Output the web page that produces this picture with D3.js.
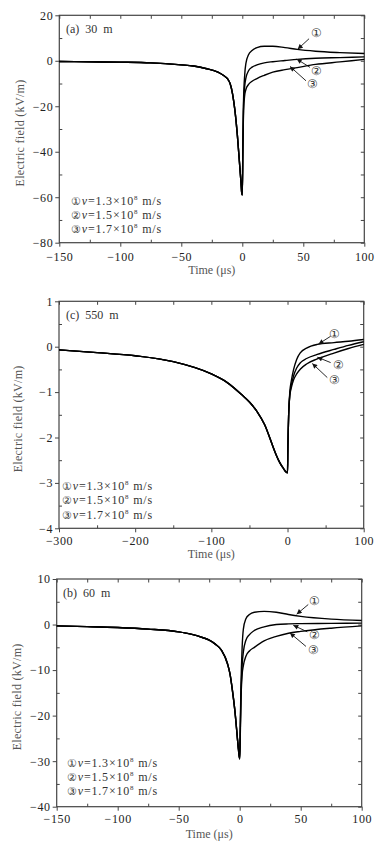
<!DOCTYPE html>
<html>
<head>
<meta charset="utf-8">
<script src="https://cdn.jsdelivr.net/npm/d3@7/dist/d3.min.js"></script>
<style>
  body { margin: 0; background: #fff; }
  svg { display: block; }
  text { font-family: "Liberation Serif", "DejaVu Serif", serif; }
</style>
</head>
<body>
<svg id="chart" width="383" height="853"></svg>
<script>
/*
 *** Data: shared rise before t=0, three tails after t=0
 */
var speedLabels = ["1.3", "1.5", "1.7"];
var markers = ["\u2460", "\u2461", "\u2462"];

// (a) 30 m
var preTimeA  = [-150, -125, -100, -75, -50, -40, -30, -20, -15, -12, -10, -8, -6, -4, -2, -1, -0.5, 0];
var preFieldA = [-0.3, -0.45, -0.6, -0.9, -1.8, -2.3, -3.4, -5, -6.6, -8, -10, -14.5, -22, -33, -47, -54, -58, -59];
var postTimeA = [0.5, 1, 2, 3, 5, 8, 12, 18, 25, 35, 45, 60, 80, 100];
var v13A = [-35, -18, -6, -1, 2.5, 4.5, 5.8, 6.4, 6.4, 5.8, 5, 4.2, 3.6, 3.2];
var v15A = [-36, -20, -11, -7.5, -4.5, -2.8, -1.8, -0.9, -0.4, 0.1, 0.6, 1.1, 1.4, 1.7];
var v17A = [-38, -22, -15, -12.5, -10.5, -9, -7.8, -6.4, -5, -3.9, -3, -1.6, -0.5, 0.6];
var xTicksA = [-150, -100, -50, 0, 50, 100];
var yTicksA = [20, 0, -20, -40, -60, -80];

// (c) 550 m
var preTimeC  = [-300, -250, -200, -150, -100, -80, -60, -50, -40, -30, -20, -15, -10, -5, -2, 0];
var preFieldC = [-0.07, -0.13, -0.2, -0.33, -0.6, -0.78, -1.06, -1.22, -1.43, -1.72, -2.16, -2.38, -2.56, -2.69, -2.76, -2.78];
var postTimeC = [0.5, 1.5, 3, 5, 8, 12, 17, 25, 39, 61, 80, 100];
var v13C = [-2.2, -1.5, -1.0, -0.75, -0.5, -0.28, -0.13, -0.03, 0.05, 0.09, 0.12, 0.16];
var v15C = [-2.2, -1.5, -1.05, -0.85, -0.64, -0.47, -0.35, -0.26, -0.17, -0.06, 0.03, 0.11];
var v17C = [-2.2, -1.5, -1.08, -0.9, -0.73, -0.6, -0.49, -0.38, -0.27, -0.14, -0.04, 0.05];
var xTicksC = [-300, -200, -100, 0, 100];
var yTicksC = [1, 0, -1, -2, -3, -4];

// (b) 60 m
var preTimeB  = [-150, -125, -100, -75, -50, -40, -30, -25, -20, -15, -10, -8, -6, -4, -2, -1, 0];
var preFieldB = [-0.3, -0.45, -0.65, -1, -1.6, -2.1, -2.9, -3.4, -4.3, -5.6, -8.6, -10.8, -14.4, -18.8, -24.6, -27.5, -29.5];
var postTimeB = [0.5, 1, 2, 3, 5, 8, 12, 20, 30, 40, 50, 75, 100];
var v13B = [-22, -14, -5, -1, 1.2, 2.2, 2.7, 2.9, 2.7, 2.2, 1.8, 1.2, 0.9];
var v15B = [-23, -16, -9, -6, -3.5, -2.2, -1.3, -0.5, 0, 0.15, 0.2, 0.25, 0.3];
var v17B = [-24, -17, -11, -9, -7, -5.8, -5, -3.6, -2.6, -1.9, -1.5, -0.8, -0.3];
var xTicksB = [-150, -100, -50, 0, 50, 100];
var yTicksB = [10, 0, -10, -20, -30, -40];

// arrow callouts in data units: label spot, arrow tail, arrow tip
var calloutsA = [[61, 12.2, 54.7, 9.7, 45.4, 5.1], [61, -4.3, 55.5, -2.9, 44.6, 0.75], [57.4, -10.2, 52.2, -8.8, 39.1, -2.5]];
var calloutsC = [[61.8, 0.29, 56.6, 0.23, 40.8, 0.06], [67.5, -0.39, 56.6, -0.35, 39.1, -0.23], [61.8, -0.72, 52.2, -0.68, 32.5, -0.37]];
var calloutsB = [[61.7, 5.2, 56.2, 4.4, 46.7, 2.26], [61.7, -2.35, 55.4, -1.6, 43.9, -0.15], [60.3, -5.5, 54.3, -4.8, 41.2, -1.85]];


var svg = d3.select("#chart");

svg.append("defs").append("marker")
    .attr("id", "head")
    .attr("viewBox", "0 0 10 10")
    .attr("refX", 10).attr("refY", 5)
    .attr("markerWidth", 6).attr("markerHeight", 5)
    .attr("markerUnits", "userSpaceOnUse")
    .attr("orient", "auto")
    .append("path").attr("d", "M0,0L10,5L0,10Z").attr("fill", "#111");

function joinSeries(preT, preV, postT, postV){
    var pts = preT.map(function(t, i){ return [t, preV[i]]; });
    return pts.concat(postT.map(function(t, i){ return [t, postV[i]]; }));
}

function minorBetween(ticks){
    var out = [];
    for(var i = 0; i < ticks.length - 1; i++){
        out.push((ticks[i] + ticks[i+1]) / 2);
    }
    return out;
}


/*
 *** Draw one panel
 */
function drawPanel(p){
    var x = d3.scaleLinear().domain(p.xDomain).range([p.left, p.right]);
    var y = d3.scaleLinear().domain(p.yDomain).range([p.bottom, p.top]);
    var g = svg.append("g");

    var xMinor = minorBetween(p.xTicks);
    var yMinor = minorBetween(p.yTicks);
    var fmt = d3.format("d");

    function styleAxis(sel){
        sel.attr("font-family", null);
        sel.select(".domain").remove();
        sel.selectAll("line").attr("stroke", "#444").attr("stroke-width", 1);
        sel.selectAll("text")
            .attr("font-size", 12)
            .attr("fill", "#222")
            .attr("letter-spacing", 0.6);
    }

    // bottom
    g.append("g").attr("transform", "translate(0," + p.bottom + ")")
        .call(d3.axisBottom(x).tickValues(p.xTicks).tickSize(4).tickPadding(p.xPad).tickFormat(fmt))
        .call(styleAxis);
    g.append("g").attr("transform", "translate(0," + p.bottom + ")")
        .call(d3.axisBottom(x).tickValues(xMinor).tickSize(-3).tickFormat(""))
        .call(styleAxis);
    // top
    g.append("g").attr("transform", "translate(0," + p.top + ")")
        .call(d3.axisTop(x).tickValues(p.xTicks.concat(xMinor)).tickSize(-3.5).tickFormat(""))
        .call(styleAxis);
    // left
    g.append("g").attr("transform", "translate(" + p.left + ",0)")
        .call(d3.axisLeft(y).tickValues(p.yTicks).tickSize(4).tickPadding(2).tickFormat(fmt))
        .call(styleAxis);
    g.append("g").attr("transform", "translate(" + p.left + ",0)")
        .call(d3.axisLeft(y).tickValues(yMinor).tickSize(-3).tickFormat(""))
        .call(styleAxis);
    // right
    g.append("g").attr("transform", "translate(" + p.right + ",0)")
        .call(d3.axisRight(y).tickValues(p.yTicks.concat(yMinor)).tickSize(-3.5).tickFormat(""))
        .call(styleAxis);

    g.append("rect")
        .attr("x", p.left).attr("y", p.top)
        .attr("width", p.right - p.left).attr("height", p.bottom - p.top)
        .attr("fill", "none").attr("stroke", "#444").attr("stroke-width", 1.2);

    // curves
    var line = d3.line()
        .x(function(d){ return x(d[0]); })
        .y(function(d){ return y(d[1]); })
        .curve(d3.curveMonotoneX);

    p.series.slice().reverse().forEach(function(s){
        g.append("path")
            .datum(s)
            .attr("d", line)
            .attr("fill", "none")
            .attr("stroke", "#000")
            .attr("stroke-width", 1.4)
            .attr("stroke-linejoin", "round");
    });

    // callouts
    p.callouts.forEach(function(c, i){
        g.append("line")
            .attr("x1", x(c[2])).attr("y1", y(c[3]))
            .attr("x2", x(c[4])).attr("y2", y(c[5]))
            .attr("stroke", "#111").attr("stroke-width", 0.9)
            .attr("marker-end", "url(#head)");
        g.append("text")
            .attr("x", x(c[0])).attr("y", y(c[1]))
            .attr("dy", "0.35em")
            .attr("text-anchor", "middle")
            .attr("font-size", 12)
            .attr("fill", "#333")
            .text(markers[i]);
    });

    // panel tag
    g.append("text")
        .attr("x", p.tagX).attr("y", p.tagY)
        .attr("font-size", 12).attr("fill", "#333")
        .attr("word-spacing", 3)
        .text(p.tag);

    // legend
    speedLabels.forEach(function(v, i){
        var t = g.append("text")
            .attr("x", p.legX).attr("y", p.legY + i * p.legStep)
            .attr("font-size", 12).attr("fill", "#333")
            .attr("letter-spacing", 0.8);
        t.append("tspan").attr("font-size", 11).text(markers[i]);
        t.append("tspan").attr("font-style", "italic").text("v");
        t.append("tspan").text("=" + v + "\u00d710");
        t.append("tspan").attr("font-size", 7).attr("dy", -5).text("8");
        t.append("tspan").attr("dy", 5).text(" m/s");
    });

    // axis titles
    g.append("text")
        .attr("x", (p.left + p.right) / 2).attr("y", p.bottom + p.xTitleOff)
        .attr("text-anchor", "middle")
        .attr("font-size", 12).attr("fill", "#555")
        .text("Time (\u03bcs)");
    g.append("text")
        .attr("transform", "translate(" + p.yTitleX + "," + ((p.top + p.bottom) / 2 + 4) + ") rotate(-90)")
        .attr("text-anchor", "middle")
        .attr("font-size", 12).attr("fill", "#555")
        .attr("letter-spacing", 0.3)
        .text("Electric field (kV/m)");
}


drawPanel({
    left: 59.3, right: 364.3, top: 15.3, bottom: 242.7,
    xDomain: [-150, 100], yDomain: [-80, 20],
    xTicks: xTicksA, yTicks: yTicksA, xPad: 6, xTitleOff: 31,
    yTitleX: 24,
    series: [joinSeries(preTimeA, preFieldA, postTimeA, v13A),
             joinSeries(preTimeA, preFieldA, postTimeA, v15A),
             joinSeries(preTimeA, preFieldA, postTimeA, v17A)],
    callouts: calloutsA,
    tag: "(a) 30 m", tagX: 66, tagY: 33,
    legX: 71, legY: 205, legStep: 14
});

drawPanel({
    left: 59, right: 363.7, top: 301.3, bottom: 528.3,
    xDomain: [-300, 100], yDomain: [-4, 1],
    xTicks: xTicksC, yTicks: yTicksC, xPad: 4, xTitleOff: 30,
    yTitleX: 22,
    series: [joinSeries(preTimeC, preFieldC, postTimeC, v13C),
             joinSeries(preTimeC, preFieldC, postTimeC, v15C),
             joinSeries(preTimeC, preFieldC, postTimeC, v17C)],
    callouts: calloutsC,
    tag: "(c) 550 m", tagX: 66, tagY: 319,
    legX: 62, legY: 490, legStep: 14.3
});

drawPanel({
    left: 56.7, right: 361.7, top: 579, bottom: 806.7,
    xDomain: [-150, 100], yDomain: [-40, 10],
    xTicks: xTicksB, yTicks: yTicksB, xPad: 4, xTitleOff: 31.5,
    yTitleX: 21,
    series: [joinSeries(preTimeB, preFieldB, postTimeB, v13B),
             joinSeries(preTimeB, preFieldB, postTimeB, v15B),
             joinSeries(preTimeB, preFieldB, postTimeB, v17B)],
    callouts: calloutsB,
    tag: "(b) 60 m", tagX: 63, tagY: 597,
    legX: 67, legY: 767, legStep: 14
});
</script>
</body>
</html>
